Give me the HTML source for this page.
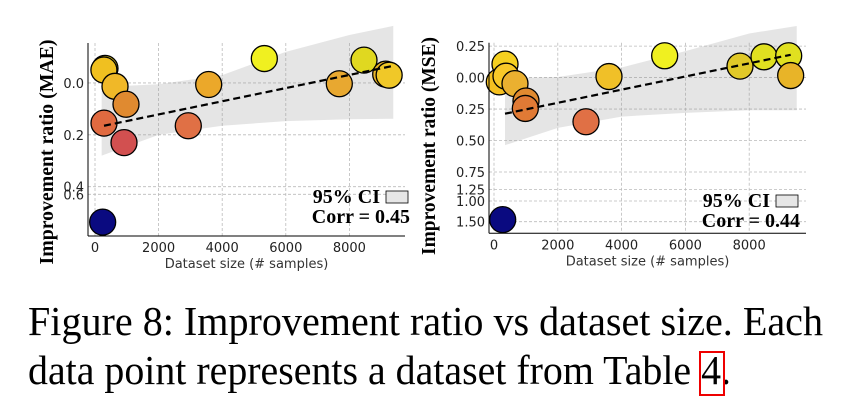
<!DOCTYPE html>
<html><head><meta charset="utf-8"><style>
body{margin:0;background:#fff;width:855px;height:417px;overflow:hidden}
svg{display:block}
</style></head><body>
<svg id="fig" width="855" height="417" xmlns="http://www.w3.org/2000/svg">
<text x="28" y="335" font-family="Liberation Serif, serif" font-size="41" textLength="795" lengthAdjust="spacingAndGlyphs">Figure 8: Improvement ratio vs dataset size. Each</text>
<text x="28" y="384" font-family="Liberation Serif, serif" font-size="41" textLength="703" lengthAdjust="spacingAndGlyphs">data point represents a dataset from Table 4.</text>
<rect x="700" y="352" width="24" height="43" fill="none" stroke="#e00" stroke-width="2"/>
</svg>
<script>
// ---- Left chart (MAE) data ----
const maeX=[314,280,629,975,283,912,2934,3575,5325,7683,8459,9141,9250,241];
const maeY=[0.056,0.05,-0.013,-0.082,-0.155,-0.23,-0.165,-0.006,0.094,-0.003,0.088,0.034,0.03,-1.35];
const maeColors=['#f5d820','#f0c020','#f0b828','#e08a30','#e06a40','#d25050','#e07045','#eba82a','#f0f020','#e8a830','#e0d820','#e8b428','#f0c828','#0a0a80'];
const maeBandX=[210,2000,4000,6000,8000,9380];
const maeBandUp=[-0.015,-0.005,0.03,0.12,0.185,0.22];
const maeBandLo=[-0.28,-0.2,-0.165,-0.147,-0.14,-0.138];
const maeFitX=[283,9340];
const maeFitY=[-0.165,0.065];
const maeYTicks=[0.0,-0.2,-0.4,-0.6];
const maeYLabels=['0.0','0.2','0.4','0.6'];
// ---- Right chart (MSE) data ----
const mseX=[345,166,376,658,1003,982,2884,3605,5350,7712,8464,9238,9300,272];
const mseY=[0.107,-0.034,0.011,-0.048,-0.186,-0.245,-0.351,0.008,0.173,0.091,0.165,0.173,0.016,-1.45];
const mseColors=['#f5d020','#f5c020','#f8c828','#eab030','#e08a30','#e07a35','#e07045','#f0c028','#f0f020','#e0c828','#e0e020','#e0e020','#e8b428','#0a0a80'];
const mseBandX=[345,2000,4000,6000,8000,9490];
const mseBandUp=[-0.005,0.005,0.08,0.21,0.35,0.41];
const mseBandLo=[-0.537,-0.4,-0.31,-0.28,-0.26,-0.26];
const mseFitX=[345,9300];
const mseFitY=[-0.287,0.181];
const mseYTicks=[0.25,0,-0.25,-0.5,-0.75,-0.9,-1.0,-1.5];
const mseYLabels=['0.25','0.00','0.25','0.50','0.75','1.25','1.00','1.50'];
const xTicks=[0,2000,4000,6000,8000];
const xLabels=['0','2000','4000','6000','8000'];

const NS='http://www.w3.org/2000/svg';
const svg=document.getElementById('fig');
function mk(tag,attrs,parent){const e=document.createElementNS(NS,tag);for(const k in attrs)e.setAttribute(k,attrs[k]);(parent||svg).appendChild(e);return e;}
function pw(dom,rng){return v=>{for(let i=0;i<dom.length-1;i++){if(v>=dom[i+1]||i==dom.length-2){return rng[i]+(v-dom[i])*(rng[i+1]-rng[i])/(dom[i+1]-dom[i]);}}};}

function chart(o){
  const g=mk('g',{});
  
  
  const sx=v=>o.x0+v*o.kx;
  const sy=pw(o.ydom,o.yrng);
  xTicks.forEach((t,i)=>{
    const l=mk('line',{x1:sx(t),x2:sx(t),y1:o.top,y2:o.bot,stroke:'#bbb','stroke-dasharray':'3,2','stroke-width':0.8},g);
    
    
    const tx=mk('text',{x:sx(t),y:o.bot+16,'text-anchor':'middle','font-family':'DejaVu Sans, sans-serif','font-size':13,fill:'#222'},g);
    tx.textContent=xLabels[i];
    
    
  });
  o.yt.forEach((t,i)=>{
    const l=mk('line',{x1:o.left,x2:o.right,y1:sy(t),y2:sy(t),stroke:'#bbb','stroke-dasharray':'3,2','stroke-width':0.8},g);
    
    
    const tx=mk('text',{x:o.left-4,y:sy(t)+5,'text-anchor':'end','font-family':'DejaVu Sans, sans-serif','font-size':13,fill:'#222'},g);
    tx.textContent=o.yl[i];
    
    
  });
  let d='';
  o.bx.forEach((v,i)=>{d+=(i?'L':'M')+sx(v)+','+sy(o.bu[i]);});
  for(let i=o.bx.length-1;i>=0;i--)d+='L'+sx(o.bx[i])+','+sy(o.bl[i]);
  const band=mk('path',{d:d+'Z',fill:'#999','fill-opacity':0.25,stroke:'none'},g);
  
  
  o.px.forEach((v,i)=>{
    const c=mk('circle',{cx:sx(v),cy:sy(o.py[i]),r:13,fill:o.pc[i],stroke:'#000','stroke-width':1.3},g);
    
    
  });
  const fl=mk('line',{x1:sx(o.fx[0]),y1:sy(o.fy[0]),x2:sx(o.fx[1]),y2:sy(o.fy[1]),stroke:'#000','stroke-width':2.2,'stroke-dasharray':'7,4'},g);
  
  
  const s1=mk('line',{x1:o.left,x2:o.left,y1:o.top,y2:o.bot,stroke:'#000','stroke-width':1},g);
  
  
  const s2=mk('line',{x1:o.left,x2:o.right,y1:o.bot,y2:o.bot,stroke:'#000','stroke-width':1},g);
  
  
  const xl=mk('text',{x:(o.left+o.right)/2,y:o.bot+32,'text-anchor':'middle','font-family':'DejaVu Sans, sans-serif','font-size':13,fill:'#333'},g);
  xl.textContent='Dataset size (# samples)';
  
  
  const yl=mk('text',{x:0,y:0,transform:`translate(${o.ylx},${o.ylc}) rotate(-90)`,'text-anchor':'middle','font-family':'Liberation Serif, serif','font-size':20,'font-weight':'bold',textLength:o.ylen,lengthAdjust:'spacingAndGlyphs'},g);
  yl.textContent=o.ytitle;
  
  
  const lg=mk('text',{x:o.lgx,y:o.lgy,'text-anchor':'end','font-family':'Liberation Serif, serif','font-size':20,'font-weight':'bold'},g);
  lg.textContent='95% CI';
  
  
  const lb=mk('rect',{x:o.lgx+6,y:o.lgy-12,width:22,height:12,fill:'#e6e6e6',stroke:'#000','stroke-width':0.8},g);
  
  
  const cr=mk('text',{x:o.lgx+30,y:o.lgy+20,'text-anchor':'end','font-family':'Liberation Serif, serif','font-size':20,'font-weight':'bold'},g);
  cr.textContent=o.corr;
  
  
}
chart({name:'mae-chart',x0:95,kx:0.0318,left:88,right:405,top:43,bot:236,
  ydom:[0.3,-0.4,-0.6,-1.4],yrng:[82.7-0.3*258.5,186.7,194.3,224],
  yt:maeYTicks,yl:maeYLabels,px:maeX,py:maeY,pc:maeColors,bx:maeBandX,bu:maeBandUp,bl:maeBandLo,fx:maeFitX,fy:maeFitY,
  ytitle:'Improvement ratio (MAE)',ylx:53,ylc:152,ylen:225,lgx:380,lgy:203,corr:'Corr = 0.45'});
chart({name:'mse-chart',x0:494,kx:0.0319,left:489,right:806,top:42.7,bot:233.3,
  ydom:[0.4,-0.75,-1.0,-1.5],yrng:[46-0.15*125.3,172,201,221.7],
  yt:mseYTicks,yl:mseYLabels,px:mseX,py:mseY,pc:mseColors,bx:mseBandX,bu:mseBandUp,bl:mseBandLo,fx:mseFitX,fy:mseFitY,
  ytitle:'Improvement ratio (MSE)',ylx:435,ylc:146,ylen:218,lgx:770,lgy:207,corr:'Corr = 0.44'});
</script>
</body></html>
